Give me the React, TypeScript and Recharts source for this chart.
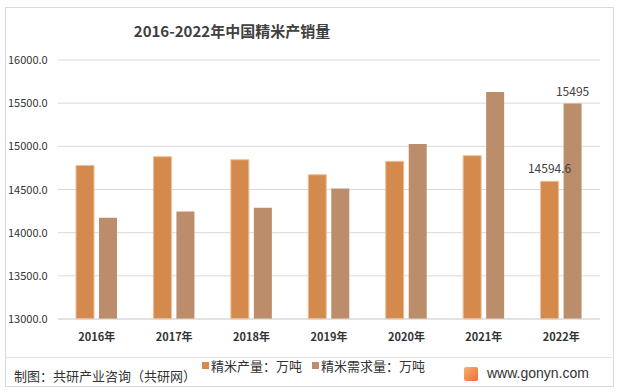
import { BarChart, Bar, XAxis, YAxis, CartesianGrid, Legend, LabelList } from 'recharts';

const years = ['2016年', '2017年', '2018年', '2019年', '2020年', '2021年', '2022年'];
const production = [14779, 14880, 14845, 14671, 14826, 14892, 14594.6];
const demand = [14174, 14244, 14290, 14512, 15027, 15628, 15495];
const yTicks = [13000, 13500, 14000, 14500, 15000, 15500, 16000];

const SERIES = {
  production: { label: '精米产量：万吨', color: '#D38A4C' },
  demand: { label: '精米需求量：万吨', color: '#BC8D6B' },
};

const FONT = '"Noto Sans CJK SC", "Noto Sans", sans-serif';

const data = years.map((year, i) => ({
  year,
  production: production[i],
  demand: demand[i],
}));

const lastOnly = (n: number) => (entry: any) => {
  const idx = data.findIndex((d) => d.year === entry.payload?.year);
  return idx === data.length - 1 ? String(n === 0 ? entry.payload.production : entry.payload.demand) : '';
};

function YTick({ y, payload }: any) {
  return (
    <text x={8} y={y} dy={4} fontSize={11} fill="#333" fontFamily={FONT}>
      {payload.value.toFixed(1)}
    </text>
  );
}

function LegendContent() {
  return (
    <div style={{ display: 'flex', gap: 10, fontSize: 13, color: '#333', fontFamily: FONT }}>
      {(Object.keys(SERIES) as Array<keyof typeof SERIES>).map((k) => (
        <span key={k} style={{ display: 'flex', alignItems: 'center' }}>
          <span style={{ width: 7, height: 7, background: SERIES[k].color, marginRight: 2 }} />
          {SERIES[k].label}
        </span>
      ))}
    </div>
  );
}

export default function App() {
  return (
    <div style={{ position: 'absolute', left: 0, top: 0, width: 619, height: 392, background: '#fff', fontFamily: FONT }}>
      <div style={{ position: 'absolute', left: 5, top: 7, width: 607, height: 378, border: '1px solid #d9d9d9' }} />
      <div style={{ position: 'absolute', left: 0, width: 464, top: 20, textAlign: 'center', fontSize: 15, fontWeight: 'bold', color: '#404040' }}>
        2016-2022年中国精米产销量
      </div>
      <div style={{ position: 'absolute' }}>
        <BarChart
          width={619}
          height={392}
          data={data}
          margin={{ top: 60, right: 19, left: 0, bottom: 24 }}
          barSize={18}
          barGap={5}
        >
          <CartesianGrid vertical={false} stroke="#d9d9d9" />
          <XAxis
            dataKey="year"
            axisLine={{ stroke: '#d9d9d9' }}
            tickLine={false}
            tick={{ fill: '#333', fontSize: 11, fontFamily: FONT, fontWeight: 'bold' }}
            tickMargin={8}
          />
          <YAxis
            domain={[13000, 16000]}
            ticks={yTicks}
            axisLine={false}
            tickLine={false}
            width={58}
            tick={<YTick />}
          />
          <Legend
            verticalAlign="bottom"
            wrapperStyle={{ left: 202, top: 356, width: 260 }}
            content={<LegendContent />}
          />
          <Bar dataKey="production" fill={SERIES.production.color} stroke="#F0BE96" strokeWidth={1} isAnimationActive={false}>
            <LabelList valueAccessor={lastOnly(0)} position="top" offset={8} fontSize={12} fill="#404040" fontFamily={FONT} />
          </Bar>
          <Bar dataKey="demand" fill={SERIES.demand.color} isAnimationActive={false}>
            <LabelList valueAccessor={lastOnly(1)} position="top" offset={8} fontSize={12} fill="#404040" fontFamily={FONT} />
          </Bar>
        </BarChart>
      </div>
      <div style={{ position: 'absolute', left: 6, top: 357, width: 606, borderTop: '1px solid #e3e3e3' }} />
      <div style={{ position: 'absolute', left: 14, top: 366, fontSize: 13, color: '#333' }}>
        制图：共研产业咨询（共研网）
      </div>
      <div style={{ position: 'absolute', left: 464, top: 367, width: 14, height: 14, background: 'linear-gradient(135deg, #f6b26b, #ee6b3b)', borderRadius: 2 }} />
      <div style={{ position: 'absolute', left: 487, top: 365, fontSize: 14, color: '#333', fontFamily: '"Liberation Sans", Arial, sans-serif' }}>
        www.gonyn.com
      </div>
    </div>
  );
}
